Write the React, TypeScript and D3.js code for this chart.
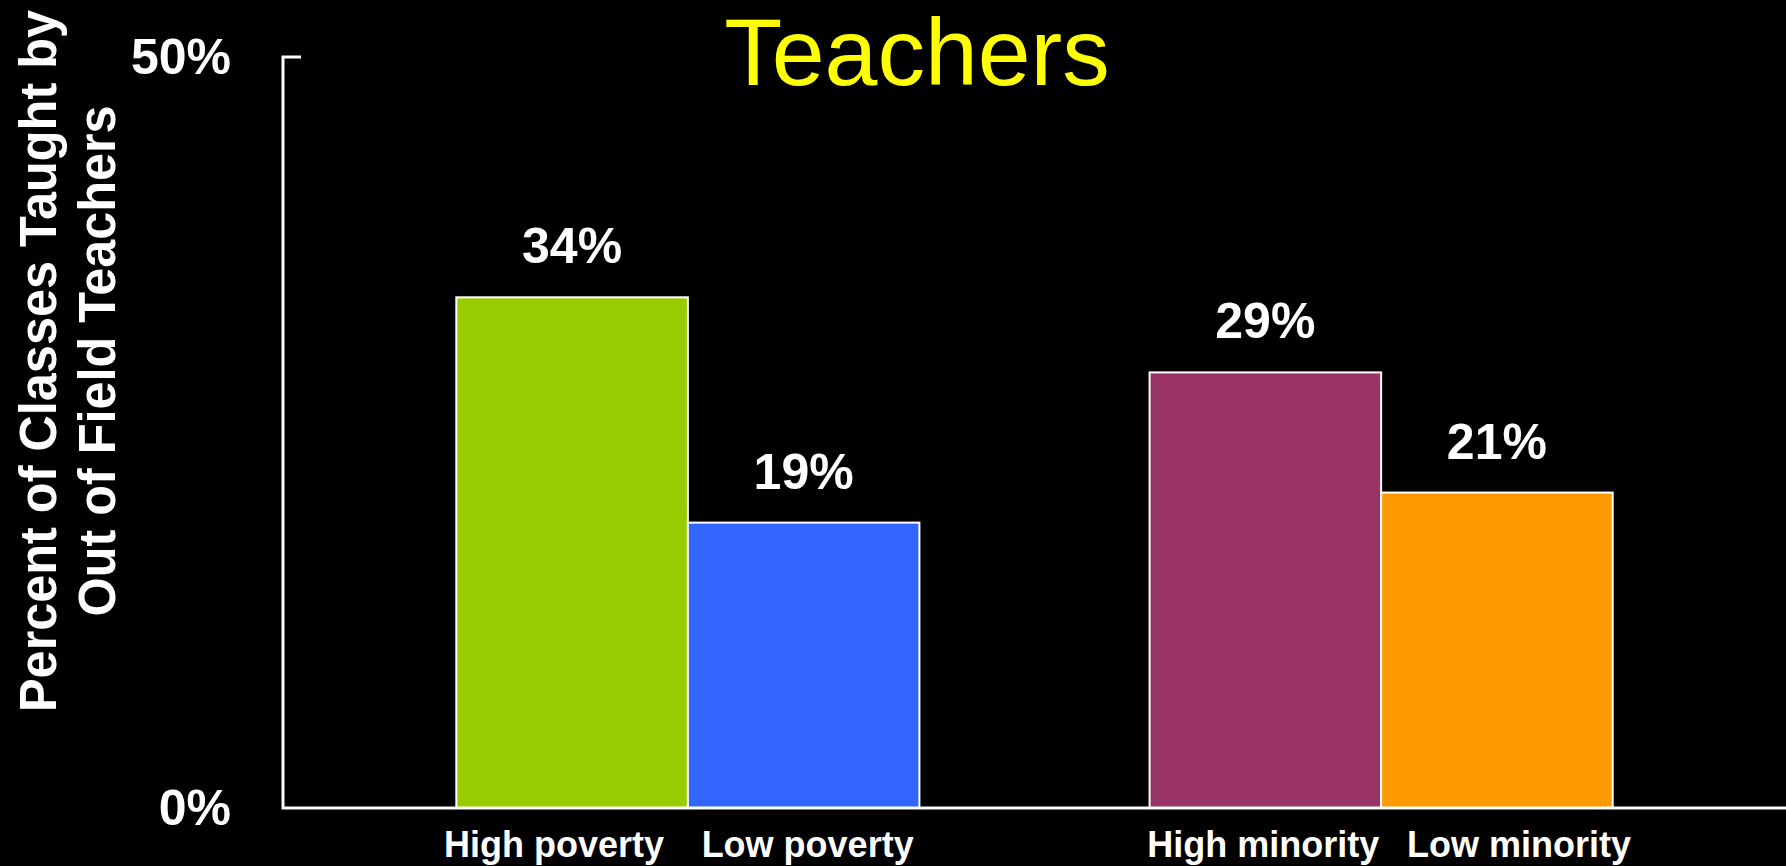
import React from "react";
import * as d3 from "d3";

// ---- data ----
const groups = ["poverty", "minority"];
const categories = ["High poverty", "Low poverty", "High minority", "Low minority"];
const categoryGroup = ["poverty", "poverty", "minority", "minority"];
const values = [34, 19, 29, 21];
const barColors = ["#99CC00", "#3366FF", "#993366", "#FF9900"];
const yTicks = [0, 50];
const title = "Teachers";
const yTitleLines = ["Percent of Classes Taught by", "Out of Field Teachers"];

// ---- layout ----
const W = 1786;
const H = 866;
const AXIS_X = 283;
const Y0 = 808;
const Y1 = 57;
const labelDx = [-18, 4, -2, 22];
const FONT = "'Liberation Sans', Arial, Helvetica, sans-serif";

export default function App() {
  const x0 = d3
    .scaleBand<string>()
    .domain(groups)
    .range([AXIS_X, W])
    .paddingInner(0.332)
    .paddingOuter(0.25);
  const x1 = d3
    .scaleBand<number>()
    .domain([0, 1])
    .range([0, x0.bandwidth()])
    .padding(0);
  const y = d3.scaleLinear().domain([0, 50]).range([Y0, Y1]);

  const bars = categories.map((c, i) => {
    const g = categoryGroup[i];
    const idx = categoryGroup.slice(0, i).filter((v) => v === g).length;
    const bx = (x0(g) as number) + (x1(idx) as number);
    return { c, i, x: bx, w: x1.bandwidth(), v: values[i] };
  });

  return (
    <svg
      width={W}
      height={H}
      style={{ position: "absolute", left: 0, top: 0, display: "block", background: "#000" }}
    >
      <rect x={0} y={0} width={W} height={H} fill="#000" />
      {/* title */}
      <text
        x={917}
        y={85}
        textAnchor="middle"
        fontFamily={FONT}
        fontSize={95}
        fill="#FFFF00"
      >
        {title}
      </text>

      {/* y-axis title */}
      <g transform="translate(0,361) rotate(-90)">
        <text
          x={0}
          y={56}
          textAnchor="middle"
          fontFamily={FONT}
          fontWeight="bold"
          fontSize={51}
          fill="#fff"
          textLength={702}
          lengthAdjust="spacingAndGlyphs"
        >
          {yTitleLines[0]}
        </text>
        <text
          x={0}
          y={115}
          textAnchor="middle"
          fontFamily={FONT}
          fontWeight="bold"
          fontSize={51}
          fill="#fff"
          textLength={511}
          lengthAdjust="spacingAndGlyphs"
        >
          {yTitleLines[1]}
        </text>
      </g>

      {/* y tick labels */}
      {yTicks.map((t) => (
        <text
          key={t}
          x={231}
          y={y(t) + 17}
          textAnchor="end"
          fontFamily={FONT}
          fontWeight="bold"
          fontSize={50}
          fill="#fff"
        >
          {t}%
        </text>
      ))}

      {/* bars */}
      {bars.map((b) => (
        <rect
          key={b.c}
          x={b.x}
          y={y(b.v)}
          width={b.w}
          height={Y0 - y(b.v)}
          fill={barColors[b.i]}
          stroke="#fff"
          strokeWidth={2}
        />
      ))}

      {/* value labels */}
      {bars.map((b) => (
        <text
          key={"v" + b.c}
          x={b.x + b.w / 2}
          y={y(b.v) - 34}
          textAnchor="middle"
          fontFamily={FONT}
          fontWeight="bold"
          fontSize={50}
          fill="#fff"
        >
          {b.v}%
        </text>
      ))}

      {/* axes */}
      <path
        d={`M${AXIS_X + 18},${y(50)}H${AXIS_X}V${Y0}H${W}`}
        fill="none"
        stroke="#fff"
        strokeWidth={3}
      />

      {/* category labels */}
      {bars.map((b) => (
        <text
          key={"c" + b.c}
          x={b.x + b.w / 2 + labelDx[b.i]}
          y={857}
          textAnchor="middle"
          fontFamily={FONT}
          fontWeight="bold"
          fontSize={36}
          fill="#fff"
        >
          {b.c}
        </text>
      ))}
    </svg>
  );
}
